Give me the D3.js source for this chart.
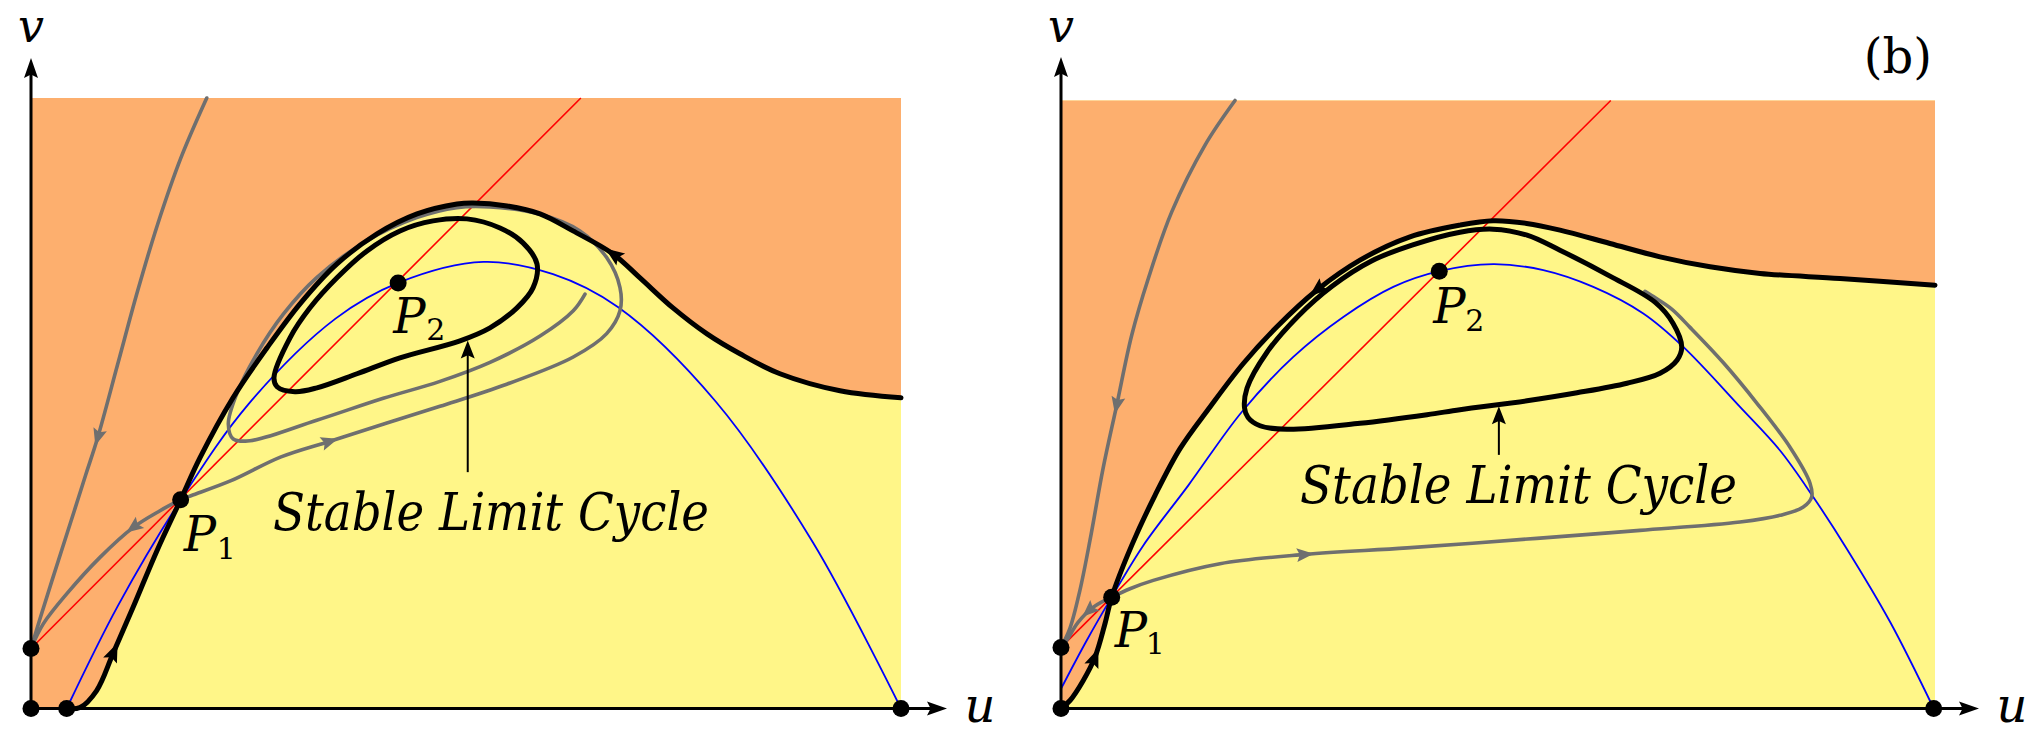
<!DOCTYPE html>
<html><head><meta charset="utf-8">
<script src="https://cdn.jsdelivr.net/npm/d3@7"></script>
<style>html,body{margin:0;padding:0;background:#fff;}svg{display:block;}
text{font-family:"DejaVu Serif";}
.it{font-style:italic;}</style>
</head><body>
<svg id="c" width="2034" height="740"></svg>
<script>
// ---------------- DATA (u, v in model units: u 0..100, v 0..70) ----------------
// Panel (a)
const aFixed = [[0,0],[4.1,0],[100,0],[0,6.88],[17.2,23.94],[42.2,48.8]];
const aRed = [[0,6.88],[63.2,70]];
const aBlue = [[4.1,0],[10,11.8],[17.2,23.9],[25,34.9],[35,44.7],[42.2,48.8],[52,51.2],[60,49.8],[67.5,46.0],[78.7,35.2],[89.9,19.0],[100,0]];
const aSep = [[4.1,0],[5.63,0.11],[7.55,2.06],[9.43,6.30],[11.72,11.57],[14.48,18.10],[17.2,23.94],[19.43,28.76],[23.22,35.63],[27.13,41.36],[30.92,46.40],[35.17,50.98],[39.77,54.42],[44.37,56.71],[48.97,57.85],[50.8,57.97],[54.71,57.62],[58.51,56.71],[62.3,54.76],[66.9,52.12],[70.0,49.37],[73.79,45.93],[77.7,42.95],[81.49,40.67],[86.09,38.38],[92.99,36.43],[100,35.63]];
const aSepArrows = [[9.46,6.5,1],[66.9,52.1,-1]];
const aCycle = [[27.93,37.92],[29.77,42.5],[32.07,45.94],[35.17,49.38],[38.62,52.47],[42.41,54.76],[46.21,55.91],[50.11,56.14],[53.91,55.1],[56.55,53.39],[58.16,50.98],[57.7,48.23],[55.86,45.94],[52.76,43.65],[49.31,42.16],[42.41,40.21],[37.47,38.38],[32.87,36.77],[30.34,36.32],[28.28,36.89]];
const aGray1 = [[20.2,70],[17.24,63.16],[14.56,55.53],[12.26,47.89],[9.97,39.49],[7.67,31.08],[6.32,26.89],[4.98,22.68],[2.41,14.66],[0.99,10.14],[0,6.88]];
const aGray1Arrows = [[7.67,31.08,1]];
const aGray2 = [[17.2,23.94],[14.83,22.68],[11.76,20.77],[7.93,17.33],[4.1,13.14],[1.41,9.7],[0,6.88]];
const aGray2Arrows = [[11.76,20.77,1]];
const aGray3 = [[17.2,23.94],[18.39,24.4],[22.99,26.12],[28.74,28.85],[34.37,30.65],[40.46,32.59],[47.01,34.65],[54.68,37.18],[62.33,40.3],[66.17,42.98],[67.7,45.6],[67.7,48.27],[66.17,51.7],[63.1,54.76],[58.51,56.67],[52.76,57.51],[48.93,57.43],[44.33,56.28],[38.59,53.61],[32.84,49.41],[29.0,45.22],[25.94,40.64],[23.64,36.05],[22.68,32.62],[23.25,30.9],[25.17,30.7],[32.84,33.05],[40.49,35.57],[47.01,37.51],[52.76,39.69],[58.51,42.7],[62.33,45.6],[63.68,47.51]];
const aGray3Arrows = [[34.37,30.65,1]];
const aCycleArrow = [[50.2,27.1],[50.2,42.2]];   // tail, tip

// Panel (b)
const bFixed = [[0,0],[99.85,0],[0,7.03],[5.8,12.82],[43.28,50.35]];
const bRed = [[0,7.03],[62.9,70]];
const bBlue = [[0,2.27],[2.94,7.83],[5.8,12.82],[9.42,18.78],[14.57,25.69],[20.68,34.14],[26.58,40.48],[32.3,45.08],[38.02,48.54],[43.28,50.35],[49.46,51.16],[55.18,50.47],[60.9,48.54],[66.62,45.48],[71.2,41.63],[77.69,34.72],[82.27,29.7],[86.07,24.35],[89.9,18.4],[94.9,9.9],[99.85,0]];
const bSep = [[0,0],[1.03,0.92],[2.55,3.23],[3.89,5.91],[5.03,9.76],[5.8,12.82],[8.09,18.78],[10.76,24.54],[13.62,29.92],[17.05,34.72],[20.86,39.72],[24.68,43.93],[29.26,48.16],[34.21,51.62],[39.93,54.3],[45.65,55.65],[49.46,56.15],[53.28,55.85],[57.09,55.08],[62.81,53.54],[68.54,52.0],[74.26,50.85],[79.98,50.09],[89.13,49.51],[100,48.74]];
const bSepArrows = [[3.89,5.91,1],[29.26,48.16,-1]];
const bCycle = [[21.0,34.6],[21.28,36.87],[23.57,41.02],[27.12,45.17],[31.01,48.62],[35.47,51.5],[40.16,53.35],[45.65,54.84],[49.43,55.19],[53.32,54.5],[57.09,52.77],[62.81,49.78],[67.96,46.78],[70.02,44.36],[71.02,41.63],[70.48,40.1],[68.54,38.6],[64.76,37.45],[59.04,36.35],[53.32,35.43],[45.65,34.4],[41.88,33.82],[34.21,32.83],[25.86,32.14],[22.77,32.55],[21.4,33.5]];
const bGray1 = [[19.91,70],[16.48,64.87],[12.67,57.18],[9.99,49.51],[8.09,42.98],[6.37,34.91],[4.81,27.62],[3.32,19.38],[2.17,13.63],[1.03,9.26],[0,7.03]];
const bGray1Arrows = [[6.37,34.91,1]];
const bGray2 = [[5.8,12.82],[3.7,11.67],[1.95,9.91],[0.65,7.83],[0,7.03]];
const bGray2Arrows = [[3.2,11.2,1]];
const bGray3 = [[5.8,12.82],[7.89,13.79],[10.56,14.75],[18.19,16.67],[27.92,17.74],[39.62,18.49],[54.44,19.59],[66.25,20.51],[77.69,21.47],[82.27,22.24],[84.93,23.19],[85.89,24.35],[85.7,25.94],[83.41,30.08],[79.63,35.14],[75.74,39.86],[71.97,43.88],[69.91,45.95],[68.08,47.22],[66.82,48.03]];
const bGray3Arrows = [[27.92,17.74,1]];
const bCycleArrow = [[50.1,29.2],[50.1,34.8]];

// Text
const cycleLabel = "Stable Limit Cycle";
const axisNames = ["u","v"];
const pointNames = [["P","1"],["P","2"]];
const panelTag = "(b)";

// ---------------- DRAWING ----------------
const svg = d3.select("#c");
const ORANGE = "#FDAF6E", YELLOW = "#FFF688", GRAY = "#6f6f6f";

const panels = [
  {x:d3.scaleLinear().domain([0,100]).range([31,901]), y:d3.scaleLinear().domain([0,70]).range([708.5,98]),
   fixed:aFixed, red:aRed, blue:aBlue, sep:aSep, sepArrows:aSepArrows, cycle:aCycle,
   grays:[[aGray1,aGray1Arrows],[aGray2,aGray2Arrows],[aGray3,aGray3Arrows]], cArrow:aCycleArrow,
   p1:4, p2:5, pOff:[[3,51,36,59],[-5,50,28,57]], text:{x:273,y:530,len:436}, tag:false, axisTip:[947,58]},
  {x:d3.scaleLinear().domain([0,100]).range([1061,1935]), y:d3.scaleLinear().domain([0,70]).range([708.5,100.5]),
   fixed:bFixed, red:bRed, blue:bBlue, sep:bSep, sepArrows:bSepArrows, cycle:bCycle,
   grays:[[bGray1,bGray1Arrows],[bGray2,bGray2Arrows],[bGray3,bGray3Arrows]], cArrow:bCycleArrow,
   p1:3, p2:4, pOff:[[3,50,34,57],[-6,52,26,60]], text:{x:1300,y:503,len:437}, tag:true, axisTip:[1979,57]}
];

function arrowHead(g, cx, cy, ang, len, hw, color){
  g.append("path")
    .attr("d", `M${len/2},0 L${-len/2},${-hw} L${-len/2+len*0.18},0 L${-len/2},${hw} Z`)
    .attr("transform", `translate(${cx},${cy}) rotate(${ang*180/Math.PI})`)
    .attr("fill", color);
}
function arrowOnPath(g, node, px, py, dir, len, hw, color){
  const total = node.getTotalLength();
  let best = 0, bd = Infinity;
  for(let s=0; s<=total; s+=0.5){
    const p = node.getPointAtLength(s);
    const d = (p.x-px)**2 + (p.y-py)**2;
    if(d<bd){bd=d;best=s;}
  }
  const a = node.getPointAtLength(Math.max(0,best-4)), b = node.getPointAtLength(Math.min(total,best+4));
  let ang = Math.atan2(b.y-a.y, b.x-a.x); if(dir<0) ang += Math.PI;
  const c = node.getPointAtLength(best);
  arrowHead(g, c.x, c.y, ang, len, hw, color);
}

panels.forEach(P => {
  const g = svg.append("g");
  const X = P.x, Y = P.y;
  const line = d3.line().x(d=>X(d[0])).y(d=>Y(d[1])).curve(d3.curveCatmullRom.alpha(0.5));
  const closed = d3.line().x(d=>X(d[0])).y(d=>Y(d[1])).curve(d3.curveCatmullRomClosed.alpha(0.5));
  const straight = d3.line().x(d=>X(d[0])).y(d=>Y(d[1]));

  g.append("rect").attr("x",X(0)).attr("y",Y(70)).attr("width",X(100)-X(0)).attr("height",Y(0)-Y(70)).attr("fill",YELLOW);
  g.append("path").attr("d", line(P.sep) + `L${X(100)},${Y(70)}L${X(0)},${Y(70)}L${X(0)},${Y(0)}Z`).attr("fill",ORANGE);

  g.append("path").attr("d",straight(P.red)).attr("stroke","#ff0000").attr("stroke-width",1.6).attr("fill","none");
  g.append("path").attr("d",line(P.blue)).attr("stroke","#0000ff").attr("stroke-width",1.8).attr("fill","none");

  P.grays.forEach(([pts, arrs]) => {
    const path = g.append("path").attr("d",line(pts)).attr("stroke",GRAY).attr("stroke-width",3.6)
      .attr("fill","none").attr("stroke-linecap","round").attr("stroke-linejoin","round");
    arrs.forEach(a => arrowOnPath(g, path.node(), X(a[0]), Y(a[1]), a[2], 17, 7, GRAY));
  });

  const sp = g.append("path").attr("d",line(P.sep)).attr("stroke","#000").attr("stroke-width",5).attr("fill","none").attr("stroke-linecap","round");
  P.sepArrows.forEach(a => arrowOnPath(g, sp.node(), X(a[0]), Y(a[1]), a[2], 19, 7.5, "#000"));

  g.append("path").attr("d",closed(P.cycle)).attr("stroke","#000").attr("stroke-width",5).attr("fill","none");

  const [tail, tip] = P.cArrow;
  g.append("line").attr("x1",X(tail[0])).attr("y1",Y(tail[1])).attr("x2",X(tip[0])).attr("y2",Y(tip[1])+14)
    .attr("stroke","#000").attr("stroke-width",2);
  arrowHead(g, X(tip[0]), Y(tip[1])+9, -Math.PI/2, 18, 7, "#000");

  const x0 = X(0), y0 = Y(0);
  g.append("line").attr("x1",x0).attr("y1",y0+1.5).attr("x2",x0).attr("y2",P.axisTip[1]+10).attr("stroke","#000").attr("stroke-width",3);
  g.append("line").attr("x1",x0-1.5).attr("y1",y0).attr("x2",P.axisTip[0]-10).attr("y2",y0).attr("stroke","#000").attr("stroke-width",3);
  arrowHead(g, x0, P.axisTip[1]+10, -Math.PI/2, 20, 7, "#000");
  arrowHead(g, P.axisTip[0]-10, y0, 0, 20, 7, "#000");

  g.selectAll(null).data(P.fixed).enter().append("circle")
    .attr("cx",d=>X(d[0])).attr("cy",d=>Y(d[1])).attr("r",8.5).attr("fill","#000");

  g.append("text").attr("class","it").text(axisNames[0]).attr("x",P.axisTip[0]+33).attr("y",722).attr("text-anchor","middle")
    .attr("font-size",48);
  g.append("text").attr("class","it").text(axisNames[1]).attr("x",x0).attr("y",42).attr("text-anchor","middle")
    .attr("font-size",46);

  [P.p1, P.p2].forEach((idx, k) => {
    const pt = P.fixed[idx], o = P.pOff[k];
    g.append("text").attr("class","it").text(pointNames[k][0]).attr("x",X(pt[0])+o[0]).attr("y",Y(pt[1])+o[1])
      .attr("font-size",48);
    g.append("text").text(pointNames[k][1]).attr("x",X(pt[0])+o[2]).attr("y",Y(pt[1])+o[3])
      .attr("font-size",30);
  });

  g.append("text").attr("class","it").text(cycleLabel).attr("x",P.text.x).attr("y",P.text.y)
    .attr("textLength",P.text.len).attr("lengthAdjust","spacingAndGlyphs")
    .attr("font-size",52);

  if(P.tag){
    g.append("text").text(panelTag).attr("x",1932).attr("y",73).attr("text-anchor","end")
      .attr("font-size",48);
  }
});
</script>
</body></html>
